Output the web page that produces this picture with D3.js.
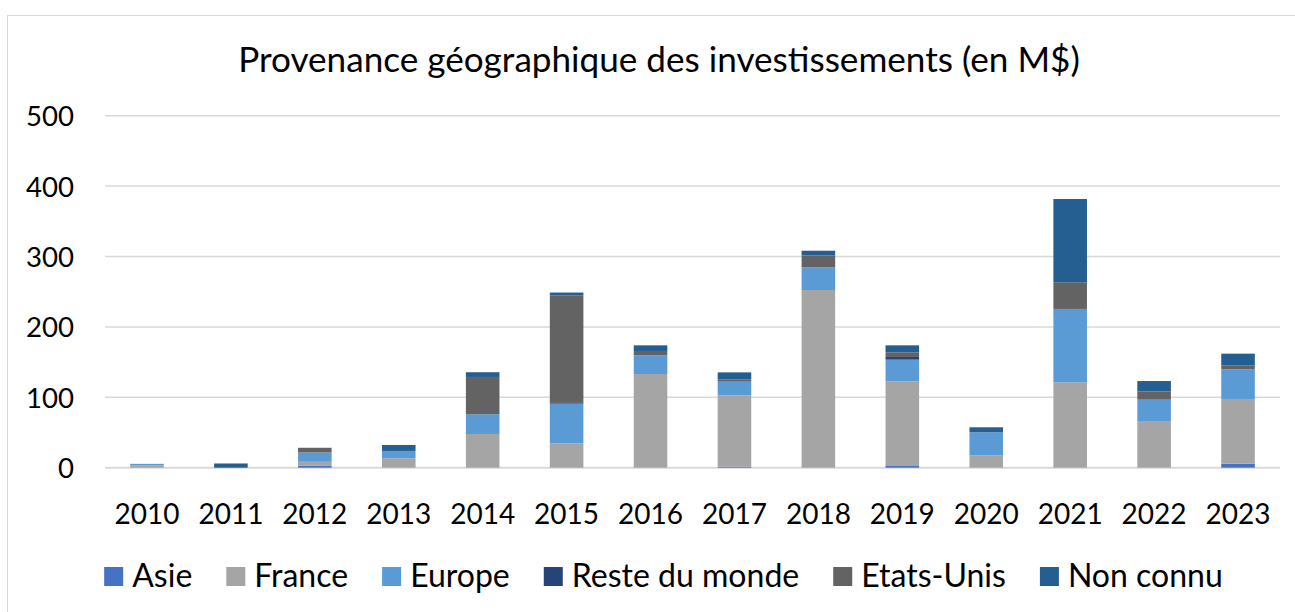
<!DOCTYPE html>
<html>
<head>
<meta charset="utf-8">
<script src="https://cdn.jsdelivr.net/npm/d3@7"></script>
<style>
  body { margin: 0; background: #fff; }
  text { font-family: Lato, "Noto Sans", sans-serif; fill: #000; }
</style>
</head>
<body>
<svg id="chart" width="1295" height="612"></svg>
<script>
const years = ["2010","2011","2012","2013","2014","2015","2016","2017","2018","2019","2020","2021","2022","2023"];
const seriesNames = ["Asie","France","Europe","Reste du monde","Etats-Unis","Non connu"];
const asie      = [0, 0, 2.7, 0, 0, 0, 0, 1.4, 0, 2.4, 0, 0, 0, 5.7];
const france    = [3.5, 0, 5.7, 13.4, 47.9, 34.7, 133.1, 101.4, 252.4, 120.3, 17.6, 121.3, 66.3, 91.9];
const europe    = [2, 0, 13.2, 10.4, 28, 56.3, 26.5, 19.4, 32.2, 30.8, 32.7, 104.2, 30.3, 42.1];
const reste     = [0, 0, 0, 0, 0, 1, 0, 0, 0, 3.8, 0, 0, 0, 0];
const etatsUnis = [0, 0, 6.7, 0, 53, 152.5, 6.2, 3.3, 17, 6.6, 0, 37.9, 11.8, 5.7];
const nonConnu  = [0, 6, 0, 8.5, 6.7, 4.3, 8, 9.9, 6.6, 9.9, 7.1, 118.3, 14.7, 16.6];
const yTicks = [0, 100, 200, 300, 400, 500];
const titleText = "Provenance géographique des investissements (en M$)";
const colors = ["#4472C4","#A5A5A5","#5B9BD5","#264478","#636363","#255E91"];

const seriesValues = [asie, france, europe, reste, etatsUnis, nonConnu];
const table = years.map((y, i) => {
  const row = { year: y };
  seriesNames.forEach((n, k) => row[n] = seriesValues[k][i]);
  return row;
});

const svg = d3.select("#chart");

// outer border
svg.append("rect").attr("x", 7.5).attr("y", 15.5).attr("width", 1300).attr("height", 620)
  .attr("fill", "#fff").attr("stroke", "#d9d9d9").attr("stroke-width", 1);

const x = d3.scaleBand().domain(years).range([105, 1280]).paddingInner(0.6).paddingOuter(0.3);
const y = d3.scaleLinear().domain([0, 500]).range([467.7, 115.7]);

function fitSize(sel, targetWidth, base) {
  sel.style("font-size", base + "px");
  const w = sel.node().getComputedTextLength();
  return base * targetWidth / w;
}

// gridlines
svg.append("g").selectAll("line").data(yTicks).join("line")
  .attr("x1", 105).attr("x2", 1280)
  .attr("y1", d => y(d)).attr("y2", d => y(d))
  .attr("stroke", "#d9d9d9").attr("stroke-width", d => d === 0 ? 2 : 1.5);

// stacked bars
const stack = d3.stack().keys(seriesNames)(table);
svg.append("g").selectAll("g").data(stack).join("g")
  .attr("fill", (d, i) => colors[i])
  .selectAll("rect").data(d => d).join("rect")
  .attr("x", d => x(d.data.year))
  .attr("width", x.bandwidth())
  .attr("y", d => y(d[1]))
  .attr("height", d => Math.max(0, y(d[0]) - y(d[1])));

// y axis labels
const yAxisG = svg.append("g");
const probeY = yAxisG.append("text").text("500");
const ySize = fitSize(probeY, 48, 26);
probeY.remove();
yAxisG.selectAll("text").data(yTicks).join("text")
  .attr("x", 74).attr("y", d => y(d))
  .attr("text-anchor", "end").attr("dominant-baseline", "central")
  .style("font-size", ySize + "px")
  .text(d => d);

// x axis labels
const xAxisG = svg.append("g");
const probeX = xAxisG.append("text").text("2010");
const xSize = fitSize(probeX, 65, 26);
probeX.remove();
xAxisG.selectAll("text").data(years).join("text")
  .attr("x", d => x(d) + x.bandwidth() / 2).attr("y", 524)
  .attr("text-anchor", "middle")
  .style("font-size", xSize + "px")
  .text(d => d);

// title
const title = svg.append("text").text(titleText).attr("x", 659).attr("y", 72).attr("text-anchor", "middle");
title.style("font-size", fitSize(title, 842, 30) + "px");

// legend
const legendG = svg.append("g");
const probeL = legendG.append("text").text("Non connu");
const lSize = fitSize(probeL, 155, 26);
probeL.remove();
const items = legendG.selectAll("g").data(seriesNames).join("g");
items.append("rect").attr("width", 19).attr("height", 19).attr("y", 567).attr("fill", (d, i) => colors[i]);
items.append("text").attr("x", 28).attr("y", 587).style("font-size", lSize + "px").text(d => d);
let widths = [];
items.each(function() { widths.push(d3.select(this).select("text").node().getComputedTextLength()); });
const gap = 34;
const total = d3.sum(widths.map(w => 28 + w)) + gap * (widths.length - 1);
let cx = 663.5 - total / 2;
items.each(function(d, i) {
  d3.select(this).attr("transform", `translate(${cx},0)`);
  cx += 28 + widths[i] + gap;
});
</script>
</body>
</html>
